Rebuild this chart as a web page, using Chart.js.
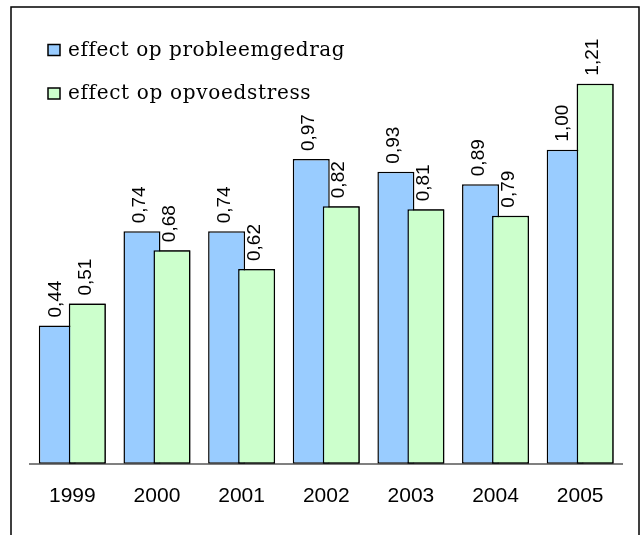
<!DOCTYPE html>
<html>
<head>
<meta charset="utf-8">
<script src="https://cdn.jsdelivr.net/npm/chart.js@4"></script>
<style>
  html, body { margin: 0; padding: 0; background: #fff; }
  #grafico { display: block; }
</style>
</head>
<body>
<canvas id="grafico" width="643" height="535"></canvas>
<script>
// dados do grafico
var jaren = ['1999', '2000', '2001', '2002', '2003', '2004', '2005'];
var probleemgedrag = [0.44, 0.74, 0.74, 0.97, 0.93, 0.89, 1.00];
var opvoedstress = [0.51, 0.68, 0.62, 0.82, 0.81, 0.79, 1.21];
var reeksNamen = ['effect op probleemgedrag', 'effect op opvoedstress'];
var kleuren = ['#99CCFF', '#CCFFCC'];

function formatar(v) {
    return v.toFixed(2).replace('.', ',');
}

// moldura em volta do grafico
var moldura = {
    id: 'moldura',
    afterDraw: function (chart) {
        var ctx = chart.ctx;
        ctx.save();
        ctx.strokeStyle = '#000';
        ctx.lineWidth = 1.5;
        ctx.strokeRect(11, 7, 628, 560);
        ctx.restore();
    }
};

// barras verdes por cima das azuis + rotulos girados
var rotulos = {
    id: 'rotulos',
    afterDatasetsDraw: function (chart) {
        var ctx = chart.ctx;
        var area = chart.chartArea;
        ctx.save();
        ctx.beginPath();
        ctx.rect(area.left, area.top, area.right - area.left, area.bottom - area.top);
        ctx.clip();
        chart.getDatasetMeta(1).data.forEach(function (el) { el.draw(ctx); });
        ctx.restore();

        ctx.save();
        ctx.fillStyle = '#000';
        ctx.font = '19px "Liberation Sans", Arial, sans-serif';
        ctx.textAlign = 'left';
        ctx.textBaseline = 'middle';
        chart.data.datasets.forEach(function (ds, i) {
            chart.getDatasetMeta(i).data.forEach(function (bar, j) {
                ctx.save();
                ctx.translate(bar.x - 2, bar.y - 8);
                ctx.rotate(-Math.PI / 2);
                ctx.fillText(formatar(ds.data[j]), 0, 0);
                ctx.restore();
            });
        });
        ctx.restore();
    }
};

// legenda desenhada dentro do grafico
var legenda = {
    id: 'legenda',
    afterDraw: function (chart) {
        var ctx = chart.ctx;
        var larguras = [276, 242];
        var linhas = [55.5, 99];
        ctx.save();
        ctx.font = '20px "DejaVu Serif", serif';
        ctx.textBaseline = 'alphabetic';
        ctx.textAlign = 'left';
        reeksNamen.forEach(function (nome, i) {
            ctx.fillStyle = kleuren[i];
            ctx.fillRect(48, linhas[i] - 11, 12, 11);
            ctx.strokeStyle = '#000';
            ctx.lineWidth = 1.5;
            ctx.strokeRect(48, linhas[i] - 11, 12, 11);
            ctx.letterSpacing = '0px';
            var w = ctx.measureText(nome).width;
            var esp = (larguras[i] - w) / (nome.length - 1);
            ctx.letterSpacing = esp.toFixed(2) + 'px';
            ctx.fillStyle = '#000';
            ctx.fillText(nome, 68, linhas[i]);
        });
        ctx.restore();
    }
};

function inicializarGrafico() {
    new Chart(document.getElementById('grafico').getContext('2d'), {
        type: 'bar',
        data: {
            labels: jaren,
            datasets: [{
                label: reeksNamen[0],
                data: probleemgedrag,
                backgroundColor: kleuren[0],
                borderColor: '#000',
                borderWidth: 1.5,
                borderSkipped: false
            }, {
                label: reeksNamen[1],
                data: opvoedstress,
                backgroundColor: kleuren[1],
                borderColor: '#000',
                borderWidth: 1.5,
                borderSkipped: false
            }]
        },
        options: {
            responsive: false,
            animation: false,
            devicePixelRatio: 1,
            categoryPercentage: 0.709,
            barPercentage: 1.233,
            layout: {
                padding: { left: 30, right: 20.5, top: 24, bottom: 6 }
            },
            scales: {
                x: {
                    grid: { display: false, drawTicks: false },
                    border: { display: true, color: '#808080', width: 2 },
                    ticks: {
                        color: '#000',
                        padding: 20,
                        font: { family: '"Liberation Sans", Arial, sans-serif', size: 21 }
                    }
                },
                y: {
                    display: false,
                    min: 0,
                    max: 1.4
                }
            },
            plugins: {
                legend: { display: false },
                tooltip: { enabled: false }
            }
        },
        plugins: [rotulos, legenda, moldura]
    });
}

window.onload = inicializarGrafico;
</script>
</body>
</html>
